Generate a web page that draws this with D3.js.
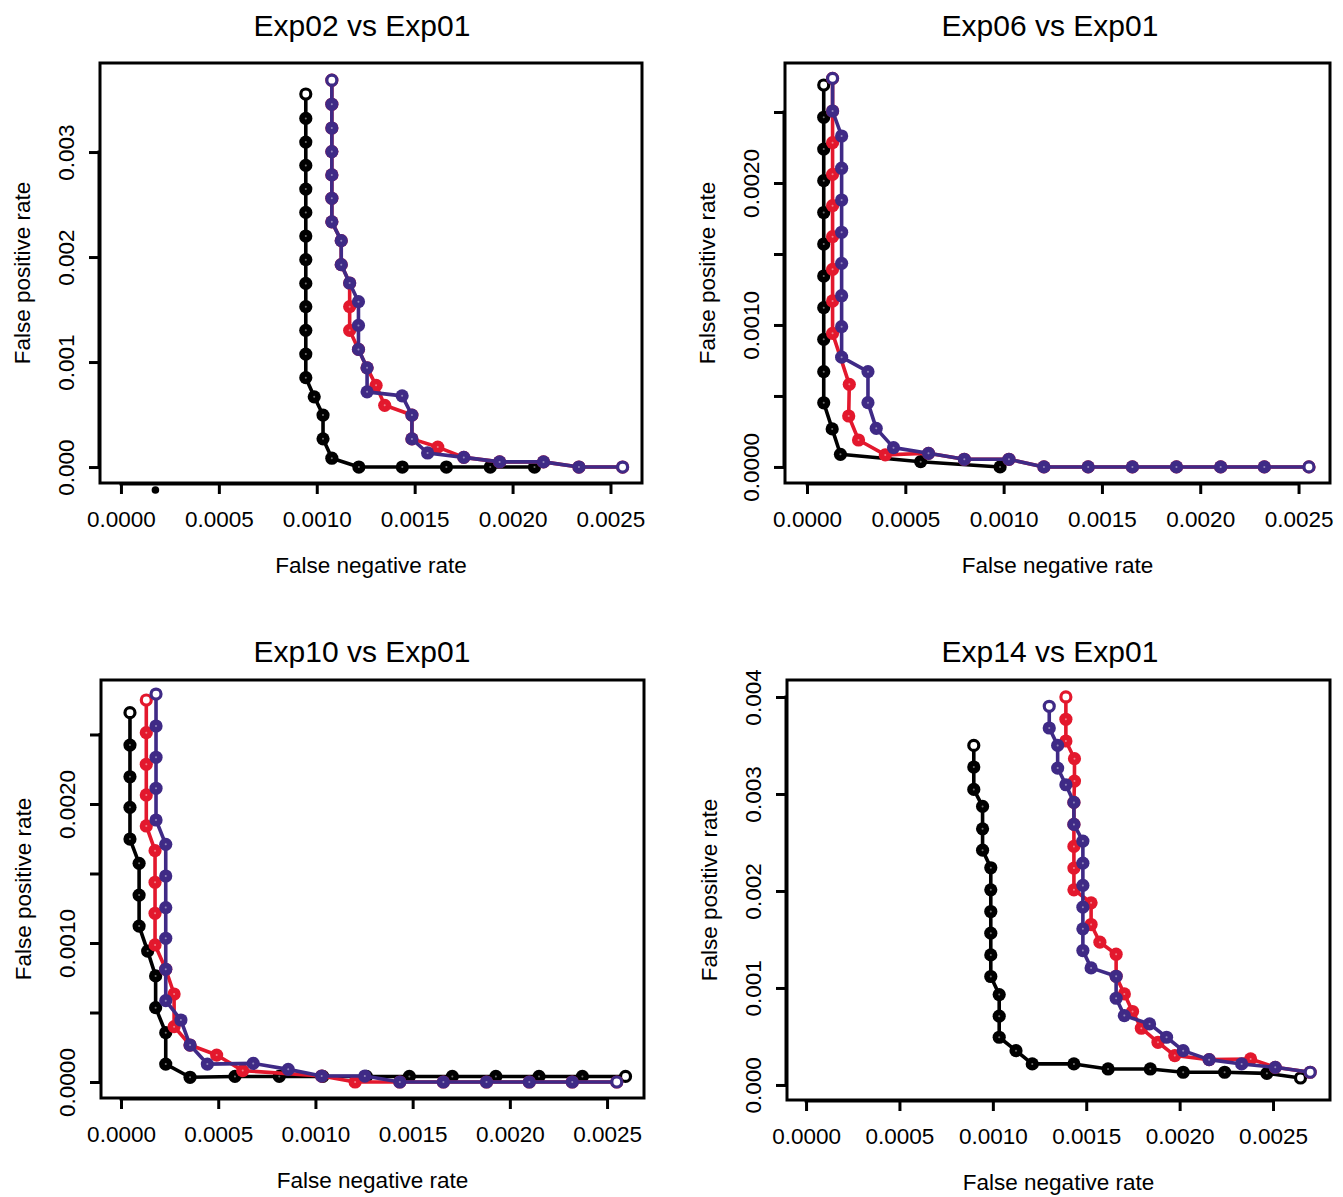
<!DOCTYPE html>
<html>
<head>
<script src="https://d3js.org/d3.v7.min.js"></script>
<style>
  body { margin: 0; background: #fff; }
  text { font-family: "Liberation Sans", Arial, Helvetica, sans-serif; fill: #000; }
</style>
</head>
<body>
<script>
// ---- data (false negative rate, false positive rate) ----
const titles = ["Exp02 vs Exp01", "Exp06 vs Exp01", "Exp10 vs Exp01", "Exp14 vs Exp01"];
const xLabel = "False negative rate";
const yLabel = "False positive rate";

const xTicks = [0, 0.0005, 0.001, 0.0015, 0.002, 0.0025];
const xTickLabels = ["0.0000", "0.0005", "0.0010", "0.0015", "0.0020", "0.0025"];
const yTicks3 = [0, 0.001, 0.002, 0.003];
const yTickLabels3 = ["0.000", "0.001", "0.002", "0.003"];
const yTicksHalf = [0, 0.0005, 0.001, 0.0015, 0.002, 0.0025];
const yTickLabelsHalf = ["0.0000", "", "0.0010", "", "0.0020", ""];
const yTicks4 = [0, 0.001, 0.002, 0.003, 0.004];
const yTickLabels4 = ["0.000", "0.001", "0.002", "0.003", "0.004"];

// Exp02 vs Exp01
const p1Black = [[0.000944,0.003553],[0.000944,0.00332],[0.000944,0.003095],[0.000944,0.002873],[0.000944,0.002647],[0.000944,0.002425],[0.000944,0.0022],[0.000944,0.001975],[0.000944,0.001749],[0.000944,0.001527],[0.000944,0.001302],[0.000944,0.001076],[0.000944,0.000851],[0.000987,0.000669],[0.001032,0.000495],[0.001032,0.000269],[0.001077,0.000084],[0.001215,0],[0.001437,0],[0.001662,0],[0.001886,0],[0.002112,0]];
const p1Red = [[0.001077,0.003684],[0.001077,0.003455],[0.001077,0.003229],[0.001077,0.003004],[0.001077,0.002782],[0.001077,0.00256],[0.001077,0.002335],[0.001125,0.002156],[0.001125,0.001927],[0.001168,0.001753],[0.001168,0.001527],[0.001168,0.001302],[0.001213,0.00112],[0.001257,0.000945],[0.001303,0.000778],[0.001347,0.000588],[0.001486,0.000495],[0.001486,0.000268],[0.001618,0.00019],[0.001751,0.000092],[0.001934,0.000049],[0.002158,0.000049],[0.002339,0],[0.002562,0]];
const p1Purple = [[0.001077,0.003684],[0.001077,0.003455],[0.001077,0.003229],[0.001077,0.003004],[0.001077,0.002782],[0.001077,0.00256],[0.001077,0.002335],[0.001125,0.002156],[0.001125,0.001927],[0.001168,0.001753],[0.001213,0.001575],[0.001213,0.001349],[0.001213,0.00112],[0.001257,0.000945],[0.001257,0.000716],[0.001436,0.000678],[0.001486,0.000495],[0.001486,0.000268],[0.001566,0.000134],[0.001751,0.000092],[0.001934,0.000049],[0.002158,0.000049],[0.002339,0],[0.002562,0]];
const p1Stray = [[0.000176,-0.000219]];

// Exp06 vs Exp01
const p2Black = [[0.000085,0.00269],[0.000085,0.002463],[0.000085,0.002239],[0.000085,0.002016],[0.000085,0.001792],[0.000085,0.00157],[0.000085,0.001345],[0.000085,0.001122],[0.000085,0.000899],[0.000085,0.000671],[0.000085,0.000452],[0.000128,0.000268],[0.00017,0.000089],[0.000578,0.000037],[0.000982,0]];
const p2Red = [[0.00013,0.002737],[0.00013,0.002507],[0.00013,0.002284],[0.00013,0.002061],[0.00013,0.00184],[0.00013,0.001622],[0.00013,0.001392],[0.00013,0.001169],[0.00013,0.000941],[0.000215,0.000582],[0.000212,0.000359],[0.000262,0.00019],[0.000398,0.000085],[0.000618,0.000096],[0.0008,0.000054],[0.001027,0.000054],[0.001205,0],[0.00143,0],[0.001655,0],[0.001879,0],[0.002104,0],[0.002326,0],[0.002553,0]];
const p2Purple = [[0.00013,0.002737],[0.00013,0.002507],[0.000176,0.002331],[0.000176,0.002104],[0.000176,0.00188],[0.000176,0.001653],[0.000176,0.001434],[0.000176,0.001206],[0.000176,0.000988],[0.000176,0.000773],[0.00031,0.000671],[0.00031,0.000453],[0.000352,0.000272],[0.00044,0.000136],[0.000618,0.000096],[0.0008,0.000054],[0.001027,0.000054],[0.001205,0],[0.00143,0],[0.001655,0],[0.001879,0],[0.002104,0],[0.002326,0],[0.002553,0]];

// Exp10 vs Exp01
const p3Black = [[0.000046,0.002657],[0.000046,0.002424],[0.000046,0.002196],[0.000046,0.001976],[0.000046,0.001748],[0.000093,0.001573],[0.000093,0.001345],[0.000093,0.001122],[0.000137,0.000942],[0.000178,0.000763],[0.000178,0.000535],[0.00023,0.000355],[0.00023,0.000129],[0.000355,0.000034],[0.000586,0.00004],[0.000814,0.00004],[0.001038,0.00004],[0.001262,0.00004],[0.001483,0.00004],[0.001704,0.00004],[0.001928,0.00004],[0.00215,0.00004],[0.002373,0.00004],[0.002595,0.00004]];
const p3Red = [[0.00013,0.002748],[0.00013,0.002513],[0.00013,0.002286],[0.00013,0.002065],[0.00013,0.001842],[0.000175,0.001664],[0.000175,0.001437],[0.000175,0.001214],[0.000175,0.000986],[0.00023,0.000811],[0.000273,0.000633],[0.000273,0.000398],[0.000355,0.000266],[0.000492,0.000194],[0.000626,0.000082],[0.001032,0.000043],[0.001204,0],[0.001434,0],[0.001658,0],[0.00188,0],[0.0021,0],[0.002321,0],[0.00255,0]];
const p3Purple = [[0.00018,0.002791],[0.00018,0.002561],[0.00018,0.002336],[0.00018,0.002113],[0.00018,0.001885],[0.00023,0.00171],[0.00023,0.001482],[0.00023,0.001255],[0.00023,0.001034],[0.00023,0.000811],[0.00023,0.000585],[0.000308,0.000446],[0.000355,0.000266],[0.000444,0.000129],[0.00068,0.000134],[0.00086,0.000091],[0.001032,0.000043],[0.001254,0.000043],[0.001434,0],[0.001658,0],[0.00188,0],[0.0021,0],[0.002321,0],[0.00255,0]];

// Exp14 vs Exp01
const p4Black = [[0.000898,0.003501],[0.000898,0.003278],[0.000898,0.003047],[0.000945,0.002872],[0.000945,0.002641],[0.000945,0.002421],[0.000989,0.002239],[0.000989,0.002012],[0.000989,0.001788],[0.000989,0.001565],[0.000989,0.001341],[0.000989,0.001118],[0.001034,0.000932],[0.001034,0.000709],[0.001034,0.000492],[0.001124,0.000354],[0.001211,0.000217],[0.001434,0.000217],[0.001617,0.000165],[0.001843,0.000165],[0.002019,0.000131],[0.002241,0.000131],[0.002467,0.00012],[0.002647,0.000072]];
const p4Red = [[0.001391,0.004],[0.001391,0.00377],[0.001391,0.003546],[0.001437,0.003364],[0.001437,0.003133],[0.001434,0.002913],[0.001434,0.002686],[0.001434,0.002459],[0.001434,0.002236],[0.001434,0.002012],[0.001526,0.001878],[0.001526,0.001654],[0.001573,0.001472],[0.00166,0.001348],[0.00166,0.001121],[0.001704,0.000939],[0.001748,0.000757],[0.001795,0.000585],[0.001884,0.00044],[0.001974,0.000303],[0.002158,0.000261],[0.00238,0.000268],[0.002512,0.000182],[0.002699,0.000131]];
const p4Purple = [[0.001302,0.003904],[0.001302,0.00368],[0.001347,0.003501],[0.001347,0.003267],[0.001391,0.003095],[0.001434,0.002913],[0.001434,0.002686],[0.001482,0.002514],[0.001482,0.002287],[0.001482,0.002057],[0.001482,0.001833],[0.001482,0.00161],[0.001482,0.001386],[0.001526,0.001207],[0.00166,0.001121],[0.00166,0.000894],[0.001704,0.000715],[0.001839,0.000629],[0.00193,0.000492],[0.002019,0.000354],[0.002158,0.000261],[0.002332,0.000217],[0.002512,0.000182],[0.002699,0.000131]];

// ---- layout ----
const width = 1343, height = 1197;
const black = "#000000", red = "#e3182d", purple = "#3f2a86";

const panels = [
  { title: titles[0], box: {l: 100, r: 642, t: 63, b: 483}, xd: [-0.000107, 0.002661], yd: [-0.000152, 0.003848],
    yTicks: yTicks3, yLabels: yTickLabels3, titleX: 362, titleY: 36,
    series: [{d: p1Black, c: black, openEnd: false}, {d: p1Red, c: red, openEnd: true}, {d: p1Purple, c: purple, openEnd: true}],
    stray: p1Stray },
  { title: titles[1], box: {l: 785, r: 1330, t: 63, b: 483}, xd: [-0.000112, 0.00266], yd: [-0.000113, 0.002845],
    yTicks: yTicksHalf, yLabels: yTickLabelsHalf, titleX: 1050, titleY: 36,
    series: [{d: p2Black, c: black, openEnd: false}, {d: p2Red, c: red, openEnd: true}, {d: p2Purple, c: purple, openEnd: true}] },
  { title: titles[2], box: {l: 101, r: 644, t: 680, b: 1098}, xd: [-0.000103, 0.00269], yd: [-0.000115, 0.002892],
    yTicks: yTicksHalf, yLabels: yTickLabelsHalf, titleX: 362, titleY: 662,
    series: [{d: p3Black, c: black, openEnd: true}, {d: p3Red, c: red, openEnd: true}, {d: p3Purple, c: purple, openEnd: true}] },
  { title: titles[3], box: {l: 787, r: 1330, t: 680, b: 1100}, xd: [-0.000102, 0.002805], yd: [-0.000155, 0.004175],
    yTicks: yTicks4, yLabels: yTickLabels4, titleX: 1050, titleY: 662,
    series: [{d: p4Black, c: black, openEnd: true}, {d: p4Red, c: red, openEnd: true}, {d: p4Purple, c: purple, openEnd: true}] }
];

const svg = d3.select("body")
  .append("svg")
  .attr("width", width)
  .attr("height", height)
  .style("display", "block");

svg.append("rect").attr("width", width).attr("height", height).attr("fill", "#fff");

panels.forEach(p => {
  const b = p.box;
  const x = d3.scaleLinear().domain(p.xd).range([b.l, b.r]);
  const y = d3.scaleLinear().domain(p.yd).range([b.b, b.t]);
  const g = svg.append("g");

  // title
  g.append("text")
    .attr("x", p.titleX).attr("y", p.titleY)
    .attr("text-anchor", "middle")
    .style("font-size", "30px")
    .text(p.title);

  // x axis
  const xAxis = d3.axisBottom(x)
    .tickValues(xTicks)
    .tickFormat((d, i) => xTickLabels[i])
    .tickSize(10)
    .tickSizeOuter(0);
  const gx = g.append("g").attr("transform", `translate(0,${b.b + 1})`).call(xAxis);
  gx.select(".domain").remove();
  gx.append("line")
    .attr("x1", x(xTicks[0])).attr("x2", x(xTicks[xTicks.length - 1]))
    .attr("stroke", "#000").attr("stroke-width", 3).attr("stroke-linecap", "square");
  gx.selectAll(".tick line").attr("stroke", "#000").attr("stroke-width", 3);
  gx.selectAll(".tick text")
    .attr("y", 43).attr("dy", 0)
    .style("font-size", "22.5px")
    .style("font-family", "'Liberation Sans', Arial, Helvetica, sans-serif");

  // y axis
  const yAxis = d3.axisLeft(y)
    .tickValues(p.yTicks)
    .tickFormat((d, i) => p.yLabels[i])
    .tickSize(10)
    .tickSizeOuter(0);
  const gy = g.append("g").attr("transform", `translate(${b.l - 1},0)`).call(yAxis);
  gy.select(".domain").remove();
  gy.append("line")
    .attr("y1", y(p.yTicks[0])).attr("y2", y(p.yTicks[p.yTicks.length - 1]))
    .attr("stroke", "#000").attr("stroke-width", 3).attr("stroke-linecap", "square");
  gy.selectAll(".tick line").attr("stroke", "#000").attr("stroke-width", 3);
  gy.selectAll(".tick text")
    .attr("transform", "rotate(-90)")
    .attr("x", 0).attr("y", -25).attr("dy", 0)
    .attr("text-anchor", "middle")
    .style("font-size", "22.5px")
    .style("font-family", "'Liberation Sans', Arial, Helvetica, sans-serif");

  // axis titles
  g.append("text")
    .attr("x", (b.l + b.r) / 2).attr("y", b.b + 90)
    .attr("text-anchor", "middle")
    .style("font-size", "22.5px")
    .text(xLabel);
  g.append("text")
    .attr("transform", `translate(${b.l - 70},${(b.t + b.b) / 2}) rotate(-90)`)
    .attr("text-anchor", "middle")
    .style("font-size", "22.5px")
    .text(yLabel);

  // series
  const line = d3.line().x(d => x(d[0])).y(d => y(d[1]));
  p.series.forEach(s => {
    g.append("path")
      .datum(s.d)
      .attr("d", line)
      .attr("fill", "none")
      .attr("stroke", s.c)
      .attr("stroke-width", 3.6)
      .attr("stroke-linejoin", "round");

    const n = s.d.length;
    const isOpen = (i) => i === 0 || (s.openEnd && i === n - 1);
    g.selectAll(null)
      .data(s.d.filter((d, i) => !isOpen(i)))
      .join("circle")
      .attr("cx", d => x(d[0])).attr("cy", d => y(d[1]))
      .attr("r", 6.6)
      .attr("fill", s.c);
    g.selectAll(null)
      .data(s.d.filter((d, i) => !isOpen(i)))
      .join("circle")
      .attr("cx", d => x(d[0])).attr("cy", d => y(d[1]))
      .attr("r", 1)
      .attr("fill", "#fff")
      .attr("opacity", 0.45);
    g.selectAll(null)
      .data(s.d.filter((d, i) => isOpen(i)))
      .join("circle")
      .attr("cx", d => x(d[0])).attr("cy", d => y(d[1]))
      .attr("r", 5)
      .attr("fill", "#fff")
      .attr("stroke", s.c)
      .attr("stroke-width", 3.2);
  });

  if (p.stray) {
    g.selectAll(null)
      .data(p.stray)
      .join("circle")
      .attr("cx", d => x(d[0])).attr("cy", d => y(d[1]))
      .attr("r", 3.8)
      .attr("fill", "#000");
  }

  // plot box
  g.append("rect")
    .attr("x", b.l).attr("y", b.t)
    .attr("width", b.r - b.l).attr("height", b.b - b.t)
    .attr("fill", "none")
    .attr("stroke", "#000")
    .attr("stroke-width", 3);
});
</script>
</body>
</html>
